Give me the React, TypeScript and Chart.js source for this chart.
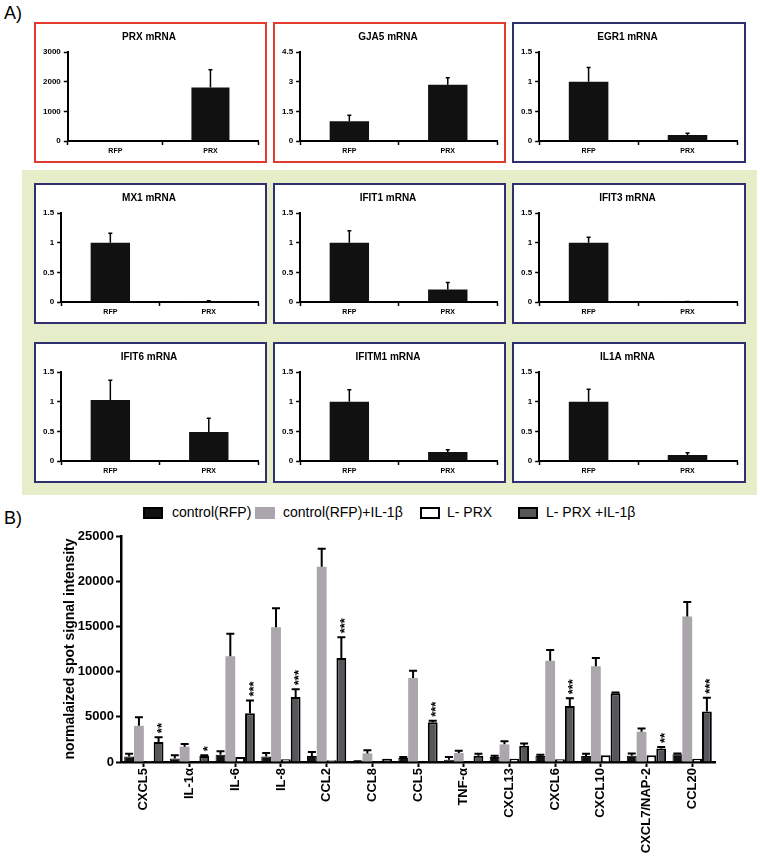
import React, { useEffect, useRef } from "react";
import { Chart, registerables } from "chart.js";

Chart.register(...registerables);

const FONT = "'Liberation Sans', Arial, sans-serif";

// ---------- Panel A data ----------
const geneTitles = [
  "PRX mRNA", "GJA5 mRNA", "EGR1 mRNA",
  "MX1 mRNA", "IFIT1 mRNA", "IFIT3 mRNA",
  "IFIT6 mRNA", "IFITM1 mRNA", "IL1A mRNA",
];
const geneCats = ["RFP", "PRX"];
const rfpMeans = [0, 1.0, 1.0, 1.0, 1.0, 1.0, 1.03, 1.0, 1.0];
const rfpErrs = [0, 0.3, 0.24, 0.16, 0.2, 0.09, 0.33, 0.2, 0.21];
const prxMeans = [1800, 2.85, 0.1, 0.006, 0.21, 0.004, 0.49, 0.15, 0.1];
const prxErrs = [600, 0.35, 0.03, 0.015, 0.12, 0.004, 0.23, 0.04, 0.04];
const yMaxes = [3000, 4.5, 1.5, 1.5, 1.5, 1.5, 1.5, 1.5, 1.5];
const ySteps = [1000, 1.5, 0.5, 0.5, 0.5, 0.5, 0.5, 0.5, 0.5];

// ---------- Panel B data ----------
const cytoCats = [
  "CXCL5", "IL-1α", "IL-6", "IL-8", "CCL2", "CCL8", "CCL5",
  "TNF-α", "CXCL13", "CXCL6", "CXCL10", "CXCL7/NAP-2", "CCL20",
];
const seriesNames = ["control(RFP)", "control(RFP)+IL-1β", "L- PRX", "L- PRX +IL-1β"];
const ctrl = [600, 400, 800, 600, 650, 50, 450, 250, 550, 650, 650, 700, 850];
const ctrlErr = [300, 350, 400, 400, 450, 30, 100, 300, 150, 150, 250, 250, 100];
const ctrlIL = [4000, 1700, 11700, 14900, 21600, 950, 9300, 1000, 1950, 11200, 10600, 3350, 16100];
const ctrlILErr = [950, 300, 2500, 2100, 2000, 350, 800, 250, 350, 1200, 900, 350, 1600];
const lprx = [100, 50, 550, 300, 200, 20, 50, 50, 350, 300, 750, 750, 350];
const lprxErr = [0, 0, 0, 0, 0, 0, 0, 0, 0, 0, 0, 0, 0];
const lprxIL = [2200, 650, 5400, 7200, 11500, 350, 4400, 700, 1800, 6200, 7600, 1500, 5600];
const lprxILErr = [550, 100, 1400, 850, 2300, 0, 150, 200, 250, 850, 100, 150, 1500];
const stars = ["**", "*", "***", "***", "***", "", "***", "", "", "***", "", "**", "***"];
const yTicksB = [0, 5000, 10000, 15000, 20000, 25000];

// ---------- plugins ----------
const errorBars = {
  id: "errorBars",
  afterDatasetsDraw(chart: any, _args: any, opts: any) {
    const { ctx } = chart;
    const yScale = chart.scales.y;
    chart.data.datasets.forEach((ds: any, di: number) => {
      if (!ds.errs) return;
      const meta = chart.getDatasetMeta(di);
      meta.data.forEach((bar: any, i: number) => {
        const e = ds.errs[i];
        if (!e) return;
        const yTop = yScale.getPixelForValue(ds.data[i] + e);
        const cap = opts.cap || 4;
        ctx.save();
        ctx.strokeStyle = "#000";
        ctx.lineWidth = opts.lineWidth || 1.5;
        ctx.beginPath();
        ctx.moveTo(bar.x, bar.y);
        ctx.lineTo(bar.x, yTop);
        ctx.moveTo(bar.x - cap / 2, yTop);
        ctx.lineTo(bar.x + cap / 2, yTop);
        ctx.stroke();
        ctx.restore();
      });
    });
  },
};

const starMarks = {
  id: "starMarks",
  afterDatasetsDraw(chart: any) {
    const { ctx } = chart;
    const yScale = chart.scales.y;
    chart.data.datasets.forEach((ds: any, di: number) => {
      if (!ds.stars) return;
      const meta = chart.getDatasetMeta(di);
      meta.data.forEach((bar: any, i: number) => {
        const s = ds.stars[i];
        if (!s) return;
        const yTop = yScale.getPixelForValue(ds.data[i] + (ds.errs ? ds.errs[i] : 0));
        ctx.save();
        ctx.translate(bar.x + 4, yTop - 4);
        ctx.rotate(-Math.PI / 2);
        ctx.fillStyle = "#000";
        ctx.font = "bold 13px " + FONT;
        ctx.textAlign = "left";
        ctx.textBaseline = "middle";
        ctx.fillText(s, 0, 0);
        ctx.restore();
      });
    });
  },
};

// ---------- small gene chart ----------
function GeneChart(props: { idx: number; left: number; top: number; width: number; height: number; color: string }) {
  const { idx, left, top, width, height, color } = props;
  const ref = useRef<HTMLCanvasElement>(null);
  const cw = width - 4;
  const ch = height - 4;
  useEffect(() => {
    const chart = new Chart(ref.current as HTMLCanvasElement, {
      type: "bar",
      data: {
        labels: geneCats,
        datasets: [
          {
            data: [rfpMeans[idx], prxMeans[idx]],
            errs: [rfpErrs[idx], prxErrs[idx]],
            backgroundColor: "#111",
            borderWidth: 0,
            barPercentage: 0.4,
            categoryPercentage: 1,
          } as any,
        ],
      },
      options: {
        animation: false,
        responsive: false,
        maintainAspectRatio: false,
        layout: { padding: { left: 4, right: 7, top: 0, bottom: 0 } },
        plugins: {
          legend: { display: false },
          tooltip: { enabled: false },
          title: {
            display: true,
            text: geneTitles[idx],
            color: "#000",
            font: { family: FONT, size: 10, weight: "bold" },
            padding: { top: 7, bottom: 9 },
          },
          errorBars: { cap: 4, lineWidth: 1.5 },
        } as any,
        scales: {
          x: {
            grid: { display: true, drawOnChartArea: false, tickLength: 4, tickColor: "#000", tickWidth: 1.5 },
            border: { color: "#000", width: 2 },
            ticks: { color: "#000", font: { family: FONT, size: 7, weight: "bold" }, padding: 2 },
            afterFit: (s: any) => { s.height = 20; },
          },
          y: {
            min: 0,
            max: yMaxes[idx],
            grid: { display: true, drawOnChartArea: false, tickLength: 4, tickColor: "#000", tickWidth: 1.5 },
            border: { color: "#000", width: 2 },
            ticks: {
              stepSize: ySteps[idx],
              color: "#000",
              font: { family: FONT, size: 8, weight: "bold" },
              padding: 3,
              callback: (v: any) => String(v),
            },
          },
        },
      },
      plugins: [errorBars as any],
    });
    return () => chart.destroy();
  }, [idx]);
  return (
    <div
      style={{
        position: "absolute",
        left,
        top,
        width,
        height,
        border: `2px solid ${color}`,
        background: "#fff",
        boxSizing: "border-box",
      }}
    >
      <canvas ref={ref} width={cw} height={ch} style={{ display: "block", width: cw, height: ch }} />
    </div>
  );
}

// ---------- panel B chart ----------
function CytoChart() {
  const ref = useRef<HTMLCanvasElement>(null);
  useEffect(() => {
    const chart = new Chart(ref.current as HTMLCanvasElement, {
      type: "bar",
      data: {
        labels: cytoCats,
        datasets: [
          { label: seriesNames[0], data: ctrl, errs: ctrlErr, backgroundColor: "#111", borderColor: "#000", borderWidth: 1 } as any,
          { label: seriesNames[1], data: ctrlIL, errs: ctrlILErr, backgroundColor: "#aaa6ab", borderWidth: 0 } as any,
          { label: seriesNames[2], data: lprx, errs: lprxErr, backgroundColor: "#fff", borderColor: "#000", borderWidth: 2 } as any,
          { label: seriesNames[3], data: lprxIL, errs: lprxILErr, stars, backgroundColor: "#58565a", borderColor: "#000", borderWidth: 2 } as any,
        ],
      },
      options: {
        animation: false,
        responsive: false,
        maintainAspectRatio: false,
        layout: { padding: { left: 62, right: 45, top: 36, bottom: 0 } },
        datasets: { bar: { categoryPercentage: 0.86, barPercentage: 1 } },
        plugins: {
          legend: { display: false },
          tooltip: { enabled: false },
          errorBars: { cap: 8, lineWidth: 2 },
        } as any,
        scales: {
          x: {
            grid: { display: true, drawOnChartArea: false, offset: false, tickLength: 5, tickWidth: 2, tickColor: "#000" },
            border: { color: "#000", width: 2.5 },
            ticks: {
              minRotation: 90,
              maxRotation: 90,
              autoSkip: false,
              color: "#000",
              font: { family: FONT, size: 13, weight: "bold" },
              padding: 1,
            },
            afterFit: (s: any) => { s.height = 94; },
          },
          y: {
            min: 0,
            max: 25000,
            afterBuildTicks: (s: any) => { s.ticks = yTicksB.map((v) => ({ value: v })); },
            grid: { display: true, drawOnChartArea: false, tickLength: 5, tickWidth: 2, tickColor: "#000" },
            border: { color: "#000", width: 2.5 },
            ticks: {
              color: "#000",
              font: { family: FONT, size: 13, weight: "bold" },
              padding: 2,
              callback: (v: any) => String(v),
            },
            title: {
              display: true,
              text: "normalaized spot signal intensity",
              color: "#000",
              font: { family: FONT, size: 14, weight: "bold" },
              padding: 0,
            },
            afterFit: (s: any) => { s.width = 59; },
          },
        },
      },
      plugins: [errorBars as any, starMarks as any],
    });
    return () => chart.destroy();
  }, []);
  return (
    <canvas
      ref={ref}
      width={760}
      height={356}
      style={{ position: "absolute", left: 0, top: 500, width: 760, height: 356, display: "block" }}
    />
  );
}

const RED = "#e23b2e";
const NAVY = "#2e3070";

const boxLayout = [
  { left: 34, top: 22 }, { left: 273, top: 22 }, { left: 512, top: 22 },
  { left: 34, top: 183 }, { left: 273, top: 183 }, { left: 512, top: 183 },
  { left: 34, top: 342 }, { left: 273, top: 342 }, { left: 512, top: 342 },
];

const legendLayout = [
  { boxLeft: 143, textLeft: 172, bg: "#111", border: "2px solid #000" },
  { boxLeft: 255, textLeft: 283, bg: "#aaa6ab", border: "none" },
  { boxLeft: 420, textLeft: 447, bg: "#fff", border: "2.5px solid #000" },
  { boxLeft: 518, textLeft: 546, bg: "#58565a", border: "2px solid #000" },
];

export default function App() {
  return (
    <div
      style={{
        position: "absolute",
        left: 0,
        top: 0,
        width: 760,
        height: 856,
        background: "#fff",
        fontFamily: FONT,
        overflow: "hidden",
      }}
    >
      <div style={{ position: "absolute", left: 4, top: 3, fontSize: 18, color: "#000" }}>A)</div>
      <div style={{ position: "absolute", left: 22, top: 170, width: 735, height: 325, background: "#e6edc9" }} />
      {boxLayout.map((b, i) => (
        <GeneChart
          key={i}
          idx={i}
          left={b.left}
          top={b.top}
          width={i % 3 === 2 ? 234 : 233}
          height={141}
          color={i < 2 ? RED : NAVY}
        />
      ))}
      <div style={{ position: "absolute", left: 4, top: 508, fontSize: 18, color: "#000" }}>B)</div>
      {legendLayout.map((l, i) => (
        <React.Fragment key={i}>
          <div
            style={{
              position: "absolute",
              left: l.boxLeft,
              top: 507,
              width: 20,
              height: 12,
              background: l.bg,
              border: l.border,
              boxSizing: "border-box",
            }}
          />
          <div
            style={{
              position: "absolute",
              left: l.textLeft,
              top: 504,
              fontSize: 14,
              lineHeight: "16px",
              color: "#000",
              whiteSpace: "nowrap",
            }}
          >
            {seriesNames[i]}
          </div>
        </React.Fragment>
      ))}
      <CytoChart />
    </div>
  );
}
